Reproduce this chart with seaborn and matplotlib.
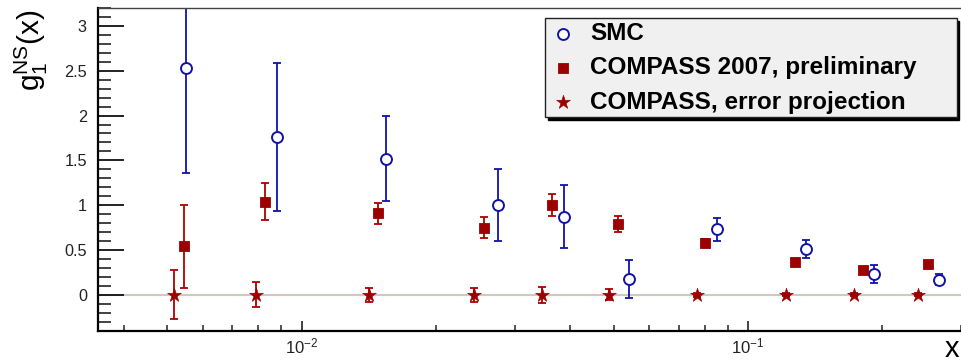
import matplotlib
matplotlib.use("Agg")
import numpy as np
import pandas as pd
import matplotlib.pyplot as plt
from matplotlib.ticker import MultipleLocator, FixedLocator, NullFormatter, FuncFormatter
import seaborn as sns

# SMC measurements
smc_x = [0.00551, 0.00882, 0.01544, 0.02754, 0.03866, 0.0541, 0.0851, 0.1349, 0.1914, 0.2677]
smc_y = [2.53, 1.76, 1.52, 1.00, 0.87, 0.18, 0.73, 0.51, 0.23, 0.17]
smc_err = [1.17, 0.83, 0.475, 0.40, 0.35, 0.21, 0.13, 0.10, 0.10, 0.06]

# COMPASS 2007 preliminary
cmp_x = [0.00546, 0.00829, 0.01483, 0.02559, 0.03633, 0.05125, 0.0803, 0.1274, 0.1813, 0.2529]
cmp_y = [0.54, 1.04, 0.91, 0.75, 1.00, 0.79, 0.58, 0.37, 0.28, 0.34]
cmp_err = [0.46, 0.21, 0.12, 0.115, 0.12, 0.085, 0.04, 0.03, 0.03, 0.03]

# COMPASS projected uncertainties
prj_x = [0.00519, 0.00789, 0.01413, 0.02439, 0.03462, 0.04883, 0.0767, 0.1214, 0.1724, 0.2407]
prj_y = [0.0, 0.0, 0.0, 0.0, 0.0, 0.0, 0.0, 0.0, 0.0, 0.0]
prj_err = [0.275, 0.14, 0.075, 0.075, 0.09, 0.06, 0.02, 0.015, 0.015, 0.015]

series_labels = ["SMC", "COMPASS 2007, preliminary", "COMPASS, error projection"]
y_ticks = [0, 0.5, 1, 1.5, 2, 2.5, 3]
x_major_ticks = [0.01, 0.1]

BLUE = "#1212a8"
RED = "#9c0000"

sns.set_style("ticks")
plt.rcParams["font.family"] = ["Liberation Sans", "DejaVu Sans"]
plt.rcParams["text.color"] = "black"
plt.rcParams["axes.labelcolor"] = "black"
plt.rcParams["mathtext.fontset"] = "custom"
plt.rcParams["mathtext.rm"] = "Liberation Sans"
plt.rcParams["mathtext.it"] = "Liberation Sans:italic"
plt.rcParams["mathtext.bf"] = "Liberation Sans:bold"

fig = plt.figure(figsize=(9.61, 3.62), dpi=100)
ax = fig.add_axes([98 / 961, 1 - 330.7 / 362, 863 / 961, 322.7 / 362])

smc = pd.DataFrame({"x": smc_x, "y": smc_y, "err": smc_err})
cmp_ = pd.DataFrame({"x": cmp_x, "y": cmp_y, "err": cmp_err})
prj = pd.DataFrame({"x": prj_x, "y": prj_y, "err": prj_err})

ax.axhline(0, color="#cdc9c1", lw=1.5, zorder=0)

eb = dict(fmt="none", elinewidth=1.3, capsize=3, capthick=1.3)
ax.errorbar(smc["x"], smc["y"], yerr=smc["err"], ecolor=BLUE, zorder=2, **eb)
ax.errorbar(cmp_["x"], cmp_["y"], yerr=cmp_["err"], ecolor="#b00000", zorder=2, **eb)
ax.errorbar(prj["x"], prj["y"], yerr=prj["err"], ecolor="#b00000", zorder=2, **eb)

sns.scatterplot(data=smc, x="x", y="y", ax=ax, marker="o", s=62, color="white",
                edgecolor=BLUE, linewidth=1.4, zorder=4, label=series_labels[0])
sns.scatterplot(data=cmp_, x="x", y="y", ax=ax, marker="s", s=44, color=RED,
                edgecolor=RED, linewidth=0.6, zorder=4, label=series_labels[1])
sns.scatterplot(data=prj, x="x", y="y", ax=ax, marker="*", s=110, color=RED,
                edgecolor=RED, linewidth=0.4, zorder=4, label=series_labels[2])

ax.set_xscale("log")
ax.set_xlim(0.0035, 0.3)
ax.set_ylim(-0.4, 3.2)

ax.xaxis.set_major_locator(FixedLocator(x_major_ticks))
ax.xaxis.set_major_formatter(FuncFormatter(lambda v, p: r"$10^{%d}$" % round(np.log10(v))))
minor_x = [m * 10.0 ** e for e in (-3, -2, -1) for m in range(2, 10)]
ax.xaxis.set_minor_locator(FixedLocator(minor_x))
ax.xaxis.set_minor_formatter(NullFormatter())

ax.yaxis.set_major_locator(FixedLocator(y_ticks))
ax.yaxis.set_major_formatter(FuncFormatter(lambda v, p: "%g" % v))
ax.yaxis.set_minor_locator(MultipleLocator(0.1))

ax.tick_params(axis="y", which="major", direction="in", length=18.5, width=1.3,
               color="#111111", labelsize=11.7, pad=8, labelcolor="#222222")
ax.tick_params(axis="y", which="minor", direction="in", length=9.5, width=1.3, color="#333333")
ax.tick_params(axis="x", which="major", direction="in", length=7.5, width=1.2,
               color="#222222", labelsize=12, pad=4, labelcolor="#222222")
ax.tick_params(axis="x", which="minor", direction="in", length=4.5, width=1.2, color="#333333")
ax.tick_params(top=False, right=False, which="both")

for side in ("left", "bottom"):
    ax.spines[side].set_linewidth(1.6)
    ax.spines[side].set_color("black")
ax.spines["top"].set_linewidth(1.0)
ax.spines["top"].set_color("#444444")
ax.spines["right"].set_visible(False)

ax.set_ylabel(r"$\mathregular{g_{1}^{NS}(x)}$", fontsize=21.5, loc="top")
ax.yaxis.set_label_coords(-0.056, 0.996)
ax.set_xlabel("x", fontsize=21, loc="right")
ax.xaxis.set_label_coords(0.998, -0.012)

# legend box spans a fixed region in the upper right corner
leg_left, leg_top = (545 - 98) / 863, (330.7 - 18.3) / 322.7
leg_w, leg_h = (956.7 - 545) / 863, (118 - 18.3) / 322.7
leg = ax.legend(loc="upper left", bbox_to_anchor=(leg_left, leg_top - leg_h, leg_w, leg_h),
                mode="expand", borderaxespad=0,
                prop={"weight": "bold", "size": 17.5}, frameon=True, fancybox=False,
                facecolor="#f0f0f0", edgecolor="#222222", framealpha=1,
                shadow={"color": "black", "alpha": 1}, labelspacing=0.46,
                handletextpad=0.53, borderpad=0.16, handlelength=1.16, labelcolor="black")
leg.get_frame().set_linewidth(1.0)

fig.savefig("out.png", dpi=100)
